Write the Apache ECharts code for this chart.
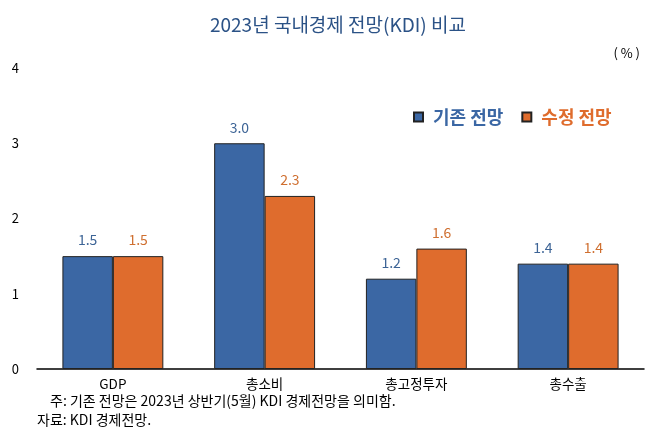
<!DOCTYPE html>
<html><head><meta charset="utf-8">
<script src="https://cdn.jsdelivr.net/npm/echarts@6/dist/echarts.min.js"></script>
<style>html,body{margin:0;padding:0;background:#fff}#c{width:658px;height:447px}</style>
</head><body><div id="c"></div>
<script>
const categories = ['GDP', '총소비', '총고정투자', '총수출'];
const prevForecast = [1.5, 3.0, 1.2, 1.4];
const newForecast = [1.5, 2.3, 1.6, 1.4];
const seriesNames = ['기존 전망', '수정 전망'];
const yTicks = [0, 1, 2, 3, 4];

const FONT = '"Noto Sans CJK KR", "Noto Sans", sans-serif';
const BLUE = '#3b67a4';
const ORANGE = '#df6c2d';

const chart = echarts.init(document.getElementById('c'));
chart.setOption({
  animation: false,
  textStyle: { fontFamily: FONT },
  title: {
    text: '2023년 국내경제 전망(KDI) 비교',
    left: 333, top: 10, textAlign: 'center',
    textStyle: { color: '#2b5286', fontSize: 19, fontWeight: 'normal', fontFamily: FONT }
  },
  legend: {
    left: 408, top: 103,
    icon: 'rect', itemWidth: 9, itemHeight: 9, itemGap: 18,
    data: [
      { name: seriesNames[0], textStyle: { color: BLUE } },
      { name: seriesNames[1], textStyle: { color: ORANGE } }
    ],
    textStyle: { fontSize: 18, fontWeight: 'bold', fontFamily: FONT, padding: [0, 0, 0, 5] }
  },
  grid: { left: 37, right: 14, top: 68, bottom: 78 },
  xAxis: {
    type: 'category', data: categories,
    axisLine: { show: true, lineStyle: { color: '#000', width: 1.5 } },
    axisTick: { show: false },
    axisLabel: { color: '#000', fontSize: 13.5, margin: 8, fontFamily: FONT }
  },
  yAxis: {
    type: 'value', min: yTicks[0], max: yTicks[yTicks.length - 1], interval: 1,
    axisLine: { show: false }, axisTick: { show: false },
    splitLine: { show: false },
    axisLabel: { color: '#000', fontSize: 13, margin: 18, fontFamily: FONT }
  },
  graphic: [
    { type: 'text', right: 18, top: 47, style: { text: '( % )', fill: '#000', font: '13px ' + FONT } },
    { type: 'text', left: 50, top: 394, style: { text: '주: 기존 전망은 2023년 상반기(5월) KDI 경제전망을 의미함.', fill: '#000', font: '14px ' + FONT } },
    { type: 'text', left: 37, top: 413, style: { text: '자료: KDI 경제전망.', fill: '#000', font: '14px ' + FONT } }
  ],
  series: [
    {
      name: seriesNames[0], type: 'bar', data: prevForecast,
      barGap: '0%', barCategoryGap: '33.5%',
      itemStyle: { color: BLUE, borderColor: '#222', borderWidth: 1 },
      label: { show: true, position: 'top', distance: 9, color: '#3d6496', fontSize: 14, formatter: p => p.value.toFixed(1) }
    },
    {
      name: seriesNames[1], type: 'bar', data: newForecast,
      barGap: '0%', barCategoryGap: '33.5%',
      itemStyle: { color: ORANGE, borderColor: '#222', borderWidth: 1 },
      label: { show: true, position: 'top', distance: 9, color: '#cf6f30', fontSize: 14, formatter: p => p.value.toFixed(1) }
    }
  ]
});
</script></body></html>
